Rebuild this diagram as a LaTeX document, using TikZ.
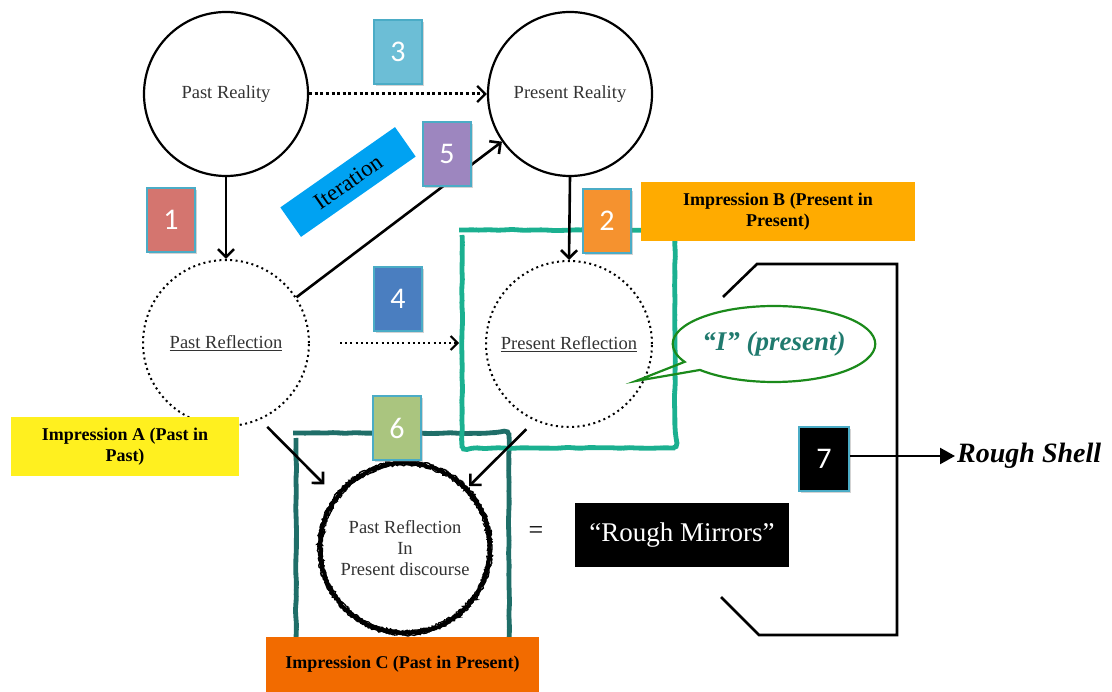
\documentclass[tikz,border=0pt]{standalone}
\usepackage{fontspec}
\setmainfont{Liberation Serif}
\newfontfamily\numfont{Carlito}
\usetikzlibrary{arrows.meta,shapes.callouts,shapes.geometric,shadows,decorations.pathmorphing}

\definecolor{boxedge}{HTML}{4BACC6}
\definecolor{cOne}{HTML}{D4756F}
\definecolor{cTwo}{HTML}{F5922F}
\definecolor{cThree}{HTML}{6CBED6}
\definecolor{cFour}{HTML}{4A7EC0}
\definecolor{cFive}{HTML}{9D86BF}
\definecolor{cSix}{HTML}{AAC57F}
\definecolor{iterblue}{HTML}{00A2F2}
\definecolor{impA}{HTML}{FFF01F}
\definecolor{impB}{HTML}{FFAB00}
\definecolor{impC}{HTML}{F26B00}
\definecolor{tealB}{HTML}{1BB090}
\definecolor{tealC}{HTML}{1F6E68}
\definecolor{calloutgreen}{HTML}{1B8A1B}
\definecolor{callouttext}{HTML}{207A6E}
\definecolor{labelgray}{HTML}{333333}

\tikzset{
  numbox/.style={rectangle, draw=boxedge, line width=1.5, fill=#1,
    minimum width=48, minimum height=64, inner sep=0, text=white,
    font=\numfont\fontsize{30}{30}\selectfont,
    drop shadow={opacity=0.35, shadow xshift=2pt, shadow yshift=-2pt}},
  reality/.style={circle, draw, line width=2.2, minimum size=164, inner sep=0,
    text=labelgray, font=\fontsize{18.5}{21}\selectfont},
  reflection/.style={circle, draw, line width=2, dash pattern={on 2pt off 3.4pt},
    minimum size=166, inner sep=0, text=labelgray, font=\fontsize{18.5}{21}\selectfont},
  arr/.style={line width=2.6, -{Straight Barb[length=8pt,width=16pt]}},
  dotarr/.style={line width=3, dash pattern={on 3pt off 2.6pt},
    -{Straight Barb[length=8pt,width=16pt,line width=2.4pt]}},
  thindotarr/.style={line width=2, dash pattern={on 2pt off 3.2pt},
    -{Straight Barb[length=7pt,width=14pt,line width=2pt]}},
  impbox/.style={rectangle, fill=#1, inner sep=0, align=center,
    font=\bfseries\fontsize{18}{21}\selectfont},
  frame/.style={draw=#1, line width=4.8, rounded corners=5,
    decorate, decoration={random steps, segment length=7pt, amplitude=0.6pt}},
}

\begin{document}
\begin{tikzpicture}[x=1pt, y=-1pt]
\pgfmathsetseed{7}
\useasboundingbox (0,0) rectangle (1112,692);

% hand-drawn frames around the impressions
\draw[frame=tealC] (296,433) rectangle (509,660);
\draw[frame=tealB] (462,230) rectangle (675,448);

% the four reality / reflection circles
\node[reality] (pastreal) at (226,94) {Past Reality};
\node[reality] (presreal) at (570,94) {Present Reality};
\node[reflection] (pastref) at (226,343) {\underline{Past Reflection}};
\node[reflection] (presref) at (569,344) {\underline{Present Reflection}};

% rough circle in the middle
\node[circle, fill=white, draw, line width=4, minimum size=170, inner sep=0,
  decorate, decoration={random steps, segment length=2pt, amplitude=0.9pt},
  align=center, text=labelgray, font=\fontsize{18.5}{21}\selectfont]
  (discourse) at (405,548) {Past Reflection\\In\\Present discourse};
\draw[line width=1.4, decorate, decoration={random steps, segment length=1.5pt, amplitude=1.1pt}]
  (discourse.center) circle (87);
\draw[line width=1.2, decorate, decoration={random steps, segment length=1.5pt, amplitude=1.1pt}]
  (discourse.center) circle (83);

% connectors
\draw[dotarr] (pastreal.east) -- (presreal.west);
\draw[arr] (pastreal.south) -- (pastref.north);
\draw[arr] (presreal.south) -- (presref.north);
\draw[arr] (pastref.33) -- (presreal.215);
\coordinate (fourstart) at (340,343);
\coordinate (fourend) at (459,343);
\draw[thindotarr] (fourstart) -- (fourend);
\draw[arr, shorten <=10pt, shorten >=16pt] (pastref.-66) -- (discourse.143);
\draw[arr, shorten <=12pt, shorten >=2pt] (presref.-114) -- (discourse.44);

% Iteration tag
\node[rectangle, fill=iterblue, minimum width=140, minimum height=36, inner sep=0,
  rotate=35, font=\fontsize{23}{25}\selectfont] (iter) at (348,182) {Iteration};

% impression labels
\node[impbox=impA, minimum width=228, minimum height=59] (impa) at (125,447)
  {Impression A (Past in\\Past)};
\node[impbox=impB, minimum width=274, minimum height=59] (impb) at (778,212)
  {Impression B (Present in\\Present)};
\node[impbox=impC, minimum width=273, minimum height=55] (impc) at (402.5,664.5)
  {Impression C (Past in Present)};

% speech bubble
\node[ellipse callout, draw=calloutgreen, line width=2.2, inner sep=0,
  minimum width=196, minimum height=76,
  callout absolute pointer={(636,381)},
  text=callouttext, font=\bfseries\itshape\fontsize{27}{30}\selectfont]
  (ipresent) at (774,344) {“I” (present)};

% equals and rough mirrors
\node[font=\fontsize{26}{26}\selectfont] (eq) at (536,533) {=};
\node[rectangle, fill=black, text=white, minimum width=214, minimum height=64,
  inner sep=0, font=\fontsize{27}{30}\selectfont] (mirrors) at (682,535)
  {“Rough Mirrors”};

% shell bracket
\draw[line width=2.6, line join=miter]
  (723,297) -- (757,264) -- (897,264) -- (897,635) -- (759,635) -- (721,597);

% numbered markers
\node[numbox=cOne] (n1) at (171,220) {1};
\node[numbox=cTwo] (n2) at (607,221) {2};
\node[numbox=cThree] (n3) at (398,52) {3};
\node[numbox=cFour] (n4) at (398,299) {4};
\node[numbox=cFive] (n5) at (447,154) {5};
\node[numbox=cSix] (n6) at (397,428) {6};
\node[numbox=black, minimum width=50] (n7) at (824,459) {7};

% rough shell
\node[anchor=west, inner sep=2, font=\bfseries\itshape\fontsize{28}{30}\selectfont]
  (shell) at (955,456) {Rough Shell};
\draw[line width=2.4, -{Triangle[length=15pt,width=16pt]}] (n7.east |- shell.west) -- (shell.west);
\end{tikzpicture}
\end{document}
